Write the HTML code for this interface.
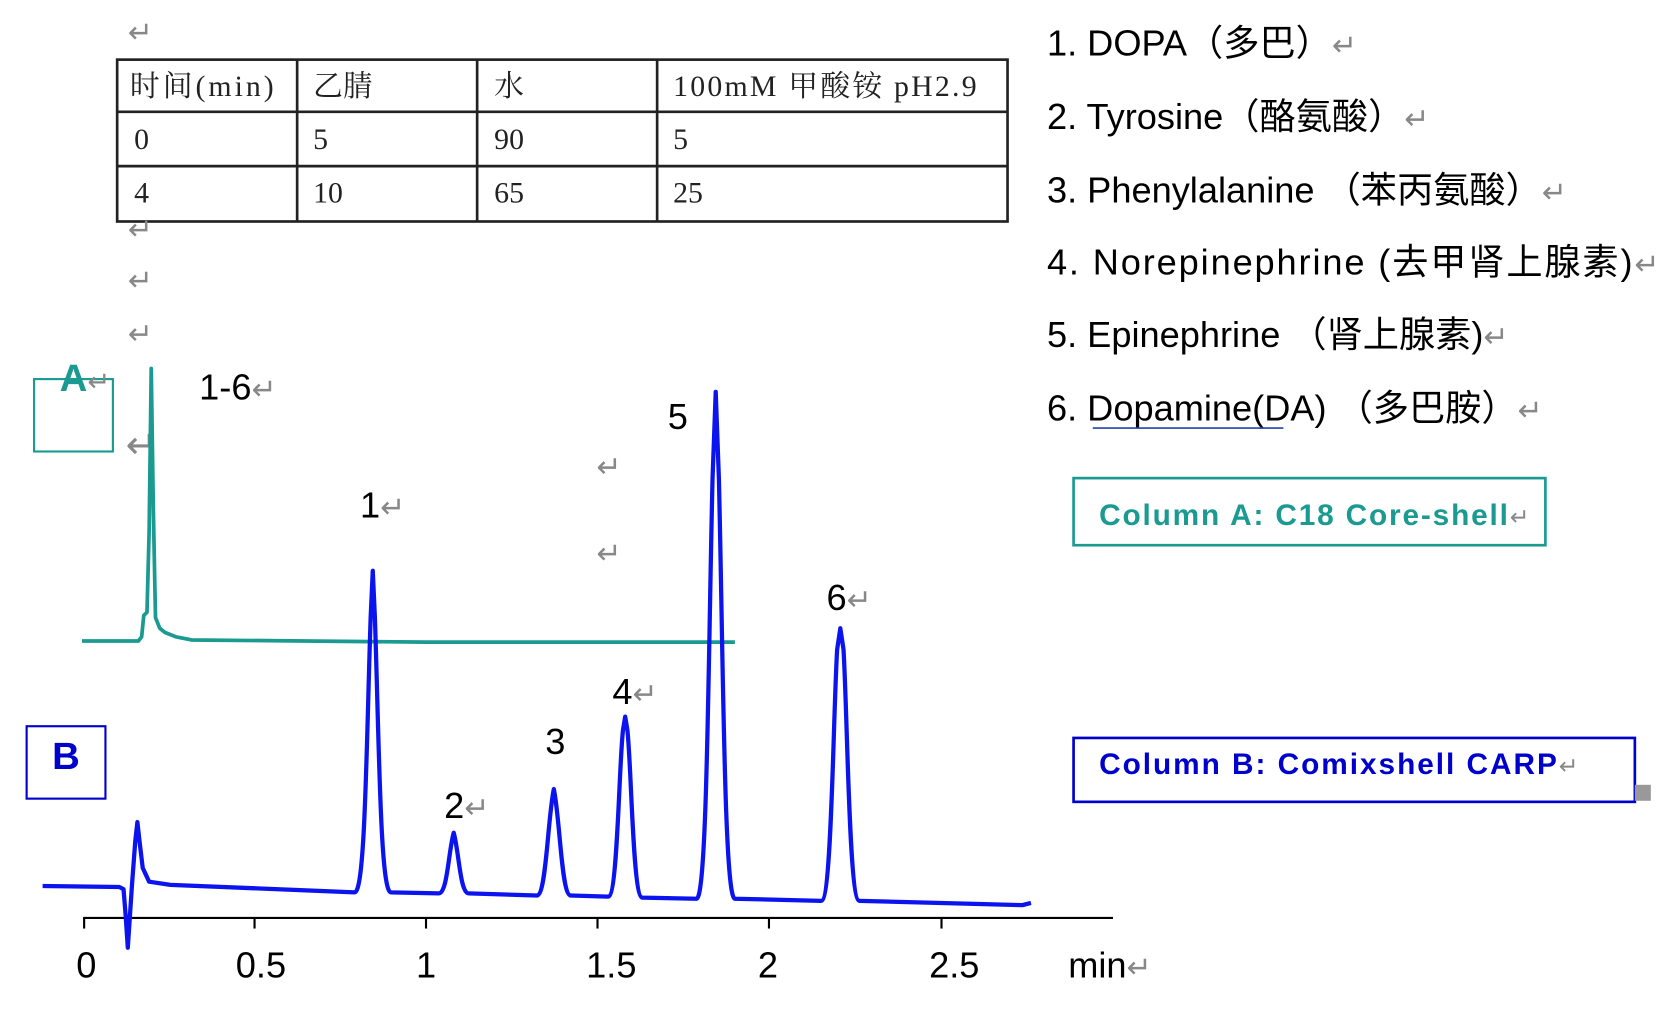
<!DOCTYPE html>
<html><head><meta charset="utf-8"><style>
html,body{margin:0;padding:0;background:#fff;}
svg{display:block;}
text{font-family:"Liberation Sans","Noto Sans CJK SC",sans-serif;}
.s{font-family:"Liberation Serif","Noto Serif CJK SC",serif;font-size:28px;fill:#222;}
.r{fill:#888;font-size:28px;}
.b{font-size:34px;fill:#000;}
</style></head><body>
<svg width="1670" height="1018" viewBox="0 0 1568 956" preserveAspectRatio="none" xmlns="http://www.w3.org/2000/svg">
<rect width="1568" height="956" fill="#fff"/>
<g stroke="#222" stroke-width="2.5" fill="none">
<rect x="110" y="56" width="836" height="152"/>
<line x1="110" y1="105" x2="946" y2="105"/>
<line x1="110" y1="156" x2="946" y2="156"/>
<line x1="279" y1="56" x2="279" y2="208"/>
<line x1="448" y1="56" x2="448" y2="208"/>
<line x1="617" y1="56" x2="617" y2="208"/>
</g>
<text class="s" x="122" y="90" textLength="135">时间(min)</text>
<text class="s" x="294" y="90">乙腈</text>
<text class="s" x="464" y="90">水</text>
<text class="s" x="632" y="90" textLength="285">100mM 甲酸铵 pH2.9</text>
<text class="s" x="126" y="140">0</text><text class="s" x="294" y="140">5</text><text class="s" x="464" y="140">90</text><text class="s" x="632" y="140">5</text>
<text class="s" x="126" y="190">4</text><text class="s" x="294" y="190">10</text><text class="s" x="464" y="190">65</text><text class="s" x="632" y="190">25</text>
<text class="r" x="120" y="40">↵</text>
<text class="r" x="120" y="225">↵</text>
<text class="r" x="120" y="273">↵</text>
<text class="r" x="120" y="323">↵</text>
<text class="r" x="560" y="448">↵</text>
<text class="r" x="560" y="529">↵</text>
<text class="r" x="118" y="430" style="font-size:36px">↵</text>
<text class="b" x="983" y="52">1. DOPA（多巴）<tspan fill="#888" font-size="28">↵</tspan></text>
<text class="b" x="983" y="121">2. Tyrosine（酪氨酸）<tspan fill="#888" font-size="28">↵</tspan></text>
<text class="b" x="983" y="190">3. Phenylalanine （苯丙氨酸）<tspan fill="#888" font-size="28">↵</tspan></text>
<text class="b" x="983" y="258" textLength="575">4. Norepinephrine (去甲肾上腺素)<tspan fill="#888" font-size="28">↵</tspan></text>
<text class="b" x="983" y="326">5. Epinephrine （肾上腺素)<tspan fill="#888" font-size="28">↵</tspan></text>
<text class="b" x="983" y="395">6. Dopamine(DA) （多巴胺）<tspan fill="#888" font-size="28">↵</tspan></text>
<line x1="1026" y1="402" x2="1205" y2="402" stroke="#2244aa" stroke-width="1.5"/>
<rect x="1008" y="449" width="443" height="63" fill="none" stroke="#1a9a90" stroke-width="2.5"/>
<text x="1032" y="493" font-size="28" font-weight="bold" fill="#1a9a90" textLength="404">Column A: C18 Core-shell<tspan fill="#888" font-weight="normal" font-size="22">↵</tspan></text>
<rect x="1008" y="693" width="527" height="60" fill="none" stroke="#0000cc" stroke-width="2.5"/>
<text x="1032" y="727" font-size="28" font-weight="bold" fill="#0000cc" textLength="450">Column B: Comixshell CARP<tspan fill="#888" font-weight="normal" font-size="22">↵</tspan></text>
<rect x="1535" y="737" width="15" height="15" fill="#999"/>
<rect x="32" y="356" width="74" height="68" fill="none" stroke="#1a9a90" stroke-width="2"/>
<text x="56" y="367" font-size="36" font-weight="bold" fill="#1a9a90">A<tspan fill="#888" font-weight="normal" font-size="26">↵</tspan></text>
<rect x="25" y="682" width="74" height="68" fill="none" stroke="#0000cc" stroke-width="2"/>
<text x="49" y="722" font-size="36" font-weight="bold" fill="#0000cc">B</text>
<g stroke="#000" stroke-width="2">
<line x1="78" y1="862" x2="1045" y2="862"/>
<line x1="79" y1="862" x2="79" y2="872"/><line x1="239" y1="862" x2="239" y2="872"/>
<line x1="400" y1="862" x2="400" y2="872"/><line x1="561" y1="862" x2="561" y2="872"/>
<line x1="722" y1="862" x2="722" y2="872"/><line x1="884" y1="862" x2="884" y2="872"/>
</g>
<g text-anchor="middle">
<text class="b" x="81" y="918">0</text><text class="b" x="245" y="918">0.5</text>
<text class="b" x="400" y="918">1</text><text class="b" x="574" y="918">1.5</text>
<text class="b" x="721" y="918">2</text><text class="b" x="896" y="918">2.5</text>
</g>
<text class="b" x="1003" y="918">min<tspan fill="#888" font-size="28">↵</tspan></text>
<path d="M77,602 L130,602 L133,598 L135,578 L138,575 L140,500 L142,346 L144,480 L146,580 L150,590 L155,594 L165,598 L180,601 L400,603 L690,603" fill="none" stroke="#1a9a90" stroke-width="3.5" stroke-linejoin="round"/>
<path d="M40,832 L112,833 L116,835 L118,860 L120,890 L122,860 L124,830 L127,790 L129,772 L131,790 L134,815 L140,828 L160,831 L333,838 C343,838 344,700 348,580 L350,536 L352,580 C356,700 357,838 367,838
L412,839 C420,839 421,800 426,782 C431,800 432,839 440,839
L504,841 C513,841 514,770 520,741 C526,770 527,841 536,841
L571,842 C580,842 581,720 585,685 L587,673 L589,685 C593,720 594,842 603,843
L654,844 C664,844 665,620 669,450 L672,368 L675,450 C679,620 680,844 690,844
L771,846 C781,846 782,680 786,610 L789,590 L792,610 C796,680 797,846 807,846 L960,850 L968,848" fill="none" stroke="#0b14ee" stroke-width="4" stroke-linejoin="round"/>
<text class="b" x="187" y="375">1-6<tspan fill="#888" font-size="28">↵</tspan></text>
<text class="b" x="338" y="486">1<tspan fill="#888" font-size="28">↵</tspan></text>
<text class="b" x="417" y="768">2<tspan fill="#888" font-size="28">↵</tspan></text>
<text class="b" x="512" y="708">3</text>
<text class="b" x="575" y="661">4<tspan fill="#888" font-size="28">↵</tspan></text>
<text class="b" x="627" y="403">5</text>
<text class="b" x="776" y="573">6<tspan fill="#888" font-size="28">↵</tspan></text>
</svg>
</body></html>
